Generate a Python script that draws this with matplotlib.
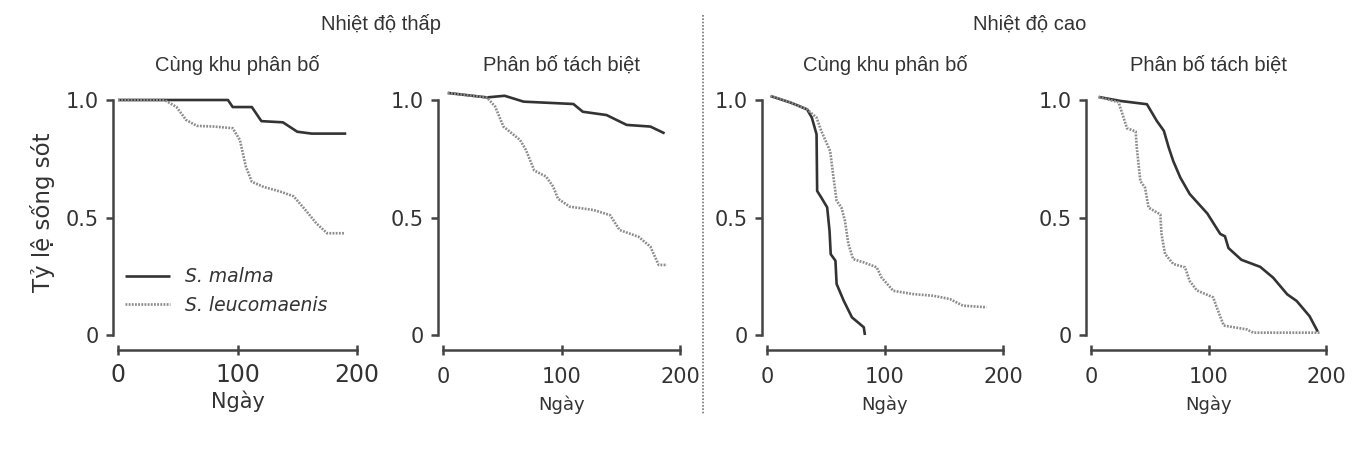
import matplotlib
matplotlib.use("Agg")
import matplotlib.pyplot as plt
from matplotlib.lines import Line2D

# ---------------- data ----------------
group_titles = ["Nhiệt độ thấp", "Nhiệt độ cao"]
panel_titles = ["Cùng khu phân bố", "Phân bố tách biệt", "Cùng khu phân bố", "Phân bố tách biệt"]
species = ["S. malma", "S. leucomaenis"]
x_ticks = [0, 100, 200]
x_ticklabels = ["0", "100", "200"]
y_ticks = [0, 0.5, 1.0]
y_ticklabels = ["0", "0.5", "1.0"]
x_label = "Ngày"
y_label = "Tỷ lệ sống sót"

# Panel 1: low temperature, sympatric
p1_malma_day = [0, 92, 96, 112, 120, 138, 150, 162, 191]
p1_malma_surv = [1.0, 1.0, 0.97, 0.97, 0.91, 0.905, 0.865, 0.857, 0.857]
p1_leuco_day = [0, 39, 49, 57, 66, 80, 96, 102, 107, 112, 122, 136, 147, 158, 166, 175, 190]
p1_leuco_surv = [1.0, 1.0, 0.97, 0.915, 0.89, 0.887, 0.88, 0.83, 0.716, 0.652, 0.63, 0.61,
                 0.59, 0.525, 0.475, 0.433, 0.433]

# Panel 2: low temperature, allopatric
p2_malma_day = [4, 37, 52, 68, 110, 118, 138, 155, 175, 187]
p2_malma_surv = [1.03, 1.011, 1.018, 0.993, 0.983, 0.95, 0.936, 0.894, 0.887, 0.858]
p2_leuco_day = [4, 37, 44, 51, 65, 70, 77, 87, 93, 97, 107, 127, 141, 149, 165, 175, 182, 189]
p2_leuco_surv = [1.03, 1.011, 0.972, 0.887, 0.83, 0.787, 0.70, 0.674, 0.631, 0.58, 0.546,
                 0.532, 0.51, 0.447, 0.418, 0.376, 0.298, 0.298]

# Panel 3: high temperature, sympatric
p3_malma_day = [3, 20, 34, 38, 42, 42.5, 46, 51, 53, 54, 58, 59, 65, 72, 82, 83]
p3_malma_surv = [1.017, 0.989, 0.96, 0.925, 0.854, 0.613, 0.585, 0.543, 0.443, 0.344,
                 0.316, 0.217, 0.146, 0.075, 0.033, 0.0]
p3_leuco_day = [3, 20, 34, 42, 46, 53.5, 56, 59, 63, 66, 69, 73, 82, 93, 97, 107, 124,
                141, 155, 166, 186]
p3_leuco_surv = [1.017, 0.989, 0.96, 0.925, 0.868, 0.783, 0.684, 0.571, 0.543, 0.487,
                 0.387, 0.323, 0.309, 0.288, 0.245, 0.188, 0.174, 0.167, 0.153, 0.125, 0.118]

# Panel 4: high temperature, allopatric
p4_malma_day = [6.5, 25, 47.6, 56, 62, 66, 70, 76, 84, 99, 110, 114, 117, 128, 144, 155,
                167, 175, 186, 193]
p4_malma_surv = [1.013, 0.996, 0.982, 0.911, 0.869, 0.80, 0.74, 0.67, 0.60, 0.517, 0.43,
                 0.42, 0.37, 0.32, 0.29, 0.244, 0.173, 0.145, 0.08, 0.014]
p4_leuco_day = [6.5, 23.5, 30.6, 38, 39, 42, 46, 49, 59, 60, 63, 70, 80, 84, 90, 104, 107,
                113, 132.5, 138, 195]
p4_leuco_surv = [1.013, 0.99, 0.88, 0.866, 0.796, 0.655, 0.627, 0.542, 0.513, 0.43, 0.345,
                 0.302, 0.288, 0.23, 0.19, 0.16, 0.118, 0.04, 0.024, 0.01, 0.01]

panels = [
    (p1_malma_day, p1_malma_surv, p1_leuco_day, p1_leuco_surv),
    (p2_malma_day, p2_malma_surv, p2_leuco_day, p2_leuco_surv),
    (p3_malma_day, p3_malma_surv, p3_leuco_day, p3_leuco_surv),
    (p4_malma_day, p4_malma_surv, p4_leuco_day, p4_leuco_surv),
]

# ---------------- layout ----------------
W, H = 1358, 459
fig = plt.figure(figsize=(W / 100, H / 100), dpi=100)
fig.patch.set_facecolor("white")

ax_px = [(118, 357), (443, 680), (767, 1003), (1091, 1326)]
y_top, y_bot = 100, 335

dark = "#333333"
grey = "#8c8c8c"
spine_c = "#444444"
title_font = "Liberation Sans"

for i, ((x0, x1), (md, ms, ld, ls)) in enumerate(zip(ax_px, panels)):
    ax = fig.add_axes([x0 / W, 1 - y_bot / H, (x1 - x0) / W, (y_bot - y_top) / H])
    ax.plot(md, ms, color=dark, lw=1.9, clip_on=False, solid_capstyle="butt",
            label=species[0])
    ax.plot(ld, ls, color=grey, lw=1.9, ls=(0, (0.7, 0.5)), clip_on=False,
            label=species[1])
    ax.set_xlim(0, 200)
    ax.set_ylim(0, 1.0)
    for s in ["top", "right"]:
        ax.spines[s].set_visible(False)
    ax.spines["left"].set_position(("outward", 3.6))
    ax.spines["bottom"].set_position(("outward", 10.8))
    ax.spines["left"].set_bounds(0, 1.0)
    ax.spines["bottom"].set_bounds(0, 200)
    for s in ["left", "bottom"]:
        ax.spines[s].set_color(spine_c)
        ax.spines[s].set_linewidth(1.8)
    ax.set_xticks(x_ticks, labels=x_ticklabels)
    ax.set_yticks(y_ticks, labels=y_ticklabels)
    xfs = 17 if i == 0 else 15
    xpad = 6 if i == 0 else 9
    ax.tick_params(axis="x", direction="inout", length=7, width=1.8, color=spine_c,
                   labelsize=xfs, labelcolor="#333333", pad=xpad)
    ax.tick_params(axis="y", direction="out", length=5, width=1.8, color=spine_c,
                   labelsize=15, labelcolor="#333333", pad=5)
    ax.set_facecolor("none")
    lfs = 15 if i == 0 else 13
    ax.set_xlabel(x_label, fontsize=lfs, color="#333333", va="center")
    ylab = (405 if i else 401)
    ax.xaxis.set_label_coords(0.5, (y_bot - ylab) / (y_bot - y_top))
    # panel subtitles
    fig.text((x0 + x1) / 2 / W, 1 - 65 / H, panel_titles[i], ha="center", va="center",
             fontsize=14.5, family=title_font, color="#333333")
    if i == 0:
        ax.set_ylabel(y_label, fontsize=16.5, color="#333333", va="center")
        ax.yaxis.set_label_coords((43 - x0) / (x1 - x0), (y_bot - 212) / (y_bot - y_top))
        leg = ax.legend(loc="center left", bbox_to_anchor=((125 - x0) / (x1 - x0), 0.187),
                        frameon=False, borderpad=0, borderaxespad=0, handlelength=2.4,
                        handletextpad=0.8, labelspacing=0.5,
                        prop={"size": 13.5, "style": "italic"})
        for t in leg.get_texts():
            t.set_color("#333333")

# group titles
fig.text(381 / W, 1 - 24 / H, group_titles[0], ha="center", va="center",
         fontsize=14.5, family=title_font, color="#333333")
fig.text(1030 / W, 1 - 24 / H, group_titles[1], ha="center", va="center",
         fontsize=14.5, family=title_font, color="#333333")

# dotted separator
fig.add_artist(Line2D([703 / W, 703 / W], [1 - 15 / H, 1 - 415 / H],
                      transform=fig.transFigure, color="#777777", lw=1.2,
                      ls=(0, (1, 1))))

fig.savefig("out.png", dpi=100)
